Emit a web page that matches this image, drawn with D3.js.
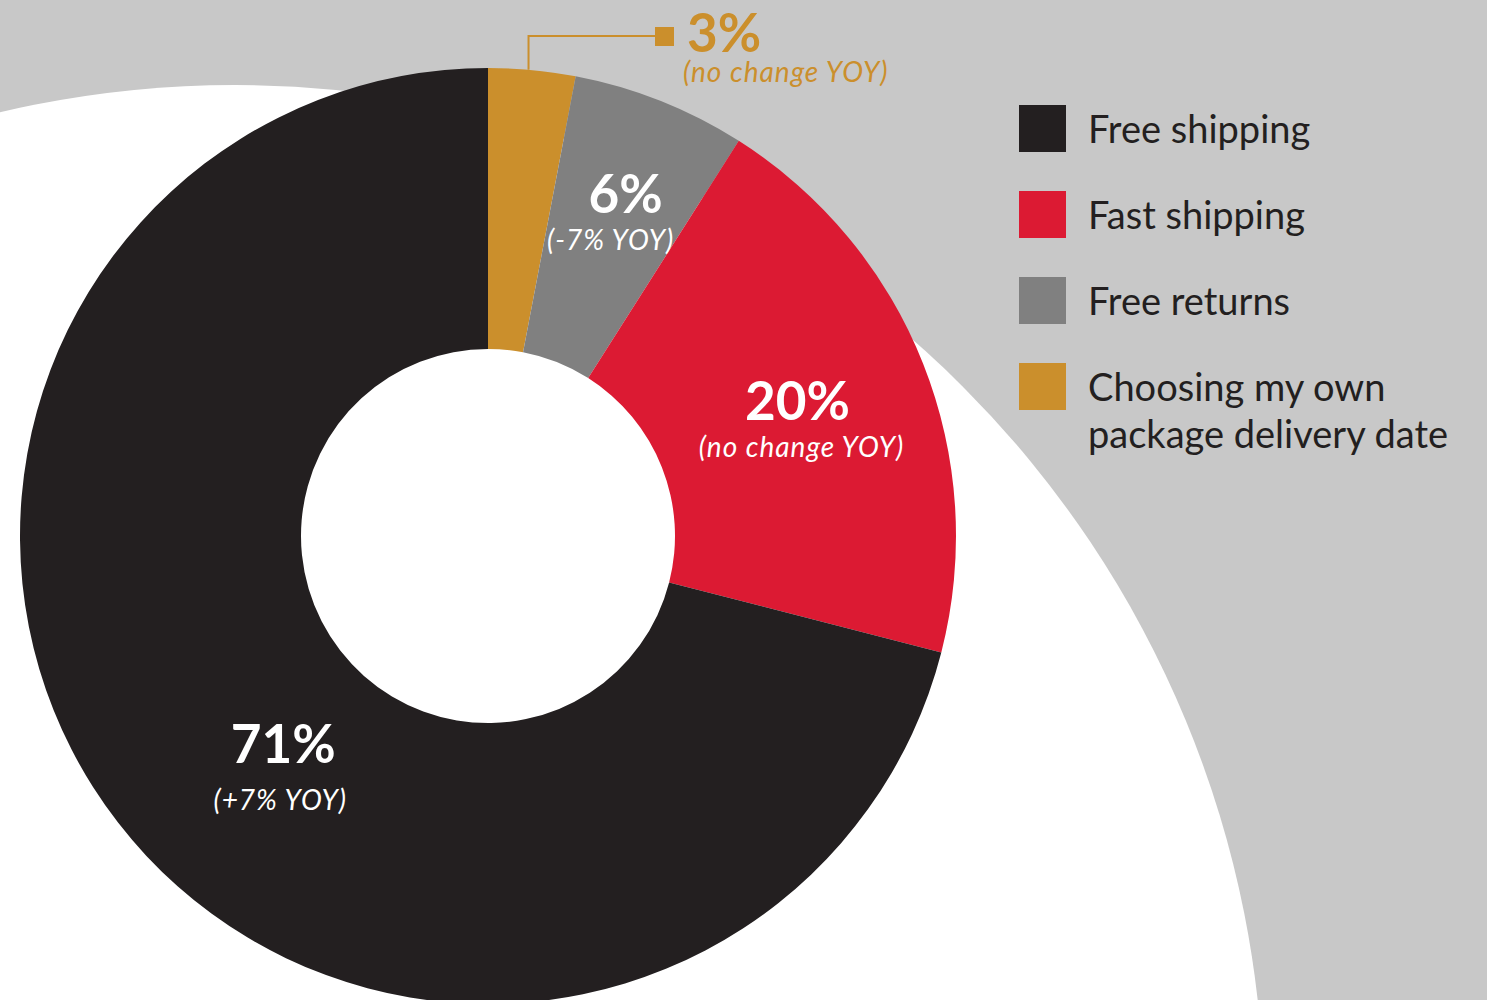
<!DOCTYPE html>
<html>
<head>
<meta charset="utf-8">
<script src="https://cdn.jsdelivr.net/npm/d3@7"></script>
<style>
  html, body { margin: 0; padding: 0; background: #c8c8c8; }
  svg { display: block; }
</style>
</head>
<body>
<svg id="chart" width="1487" height="1000"></svg>
<script>
// Delivery preferences, share of respondents (clockwise from 12 o'clock)
const categories = ["Choosing my own package delivery date", "Free returns", "Fast shipping", "Free shipping"];
const shares = [3, 6, 20, 71];
const yoyNotes = ["(no change YOY)", "(-7% YOY)", "(no change YOY)", "(+7% YOY)"];
const sliceColors = ["#cb8f2c", "#808080", "#dc1a33", "#231f20"];

// Legend order and wrapped lines
const legendOrder = ["Free shipping", "Fast shipping", "Free returns", "Choosing my own package delivery date"];
const legendLines = [["Free shipping"], ["Fast shipping"], ["Free returns"], ["Choosing my own", "package delivery date"]];

const svg = d3.select("#chart");
const W = 1487, H = 1000;

// Backdrop: grey page with a large white disc behind the donut
svg.append("rect").attr("width", W).attr("height", H).attr("fill", "#c8c8c8");
svg.append("circle").attr("cx", 235).attr("cy", 1114).attr("r", 1029).attr("fill", "#ffffff");

const cx = 488, cy = 536, rOuter = 468, rInner = 187;
const g = svg.append("g").attr("transform", `translate(${cx},${cy})`);

const data = categories.map((c, i) => ({ category: c, value: shares[i], note: yoyNotes[i], color: sliceColors[i] }));
const pie = d3.pie().sort(null).value(d => d.value).startAngle(0).endAngle(2 * Math.PI);
const arc = d3.arc().innerRadius(rInner).outerRadius(rOuter);
const arcs = pie(data);

g.selectAll("path.slice")
  .data(arcs)
  .join("path")
  .attr("class", "slice")
  .attr("d", arc)
  .attr("fill", d => d.data.color);

const fmt = v => `${v}%`;

const mainStyle = sel => sel
  .attr("font-family", "Lato, sans-serif")
  .attr("font-weight", 700)
  .attr("font-size", 53);
const noteStyle = sel => sel
  .attr("font-family", "Lato, sans-serif")
  .attr("font-style", "italic")
  .attr("font-weight", 400)
  .attr("font-size", 28)
  .attr("letter-spacing", 1);

// In-slice labels: value and note offsets from each slice centroid
const inLabelShift = {
  "Free returns": { main: [17, -19], note: [2, 18] },
  "Fast shipping": { main: [5, 5], note: [9, 42] },
  "Free shipping": { main: [54, 26], note: [51, 73] }
};
arcs.forEach(a => {
  const shift = inLabelShift[a.data.category];
  if (!shift) return;
  const [mx, my] = arc.centroid(a);
  g.append("text")
    .attr("x", mx + shift.main[0]).attr("y", my + shift.main[1])
    .attr("text-anchor", "middle")
    .attr("fill", "#ffffff")
    .call(mainStyle)
    .text(fmt(a.data.value));
  g.append("text")
    .attr("x", mx + shift.note[0]).attr("y", my + shift.note[1])
    .attr("text-anchor", "middle")
    .attr("fill", "#ffffff")
    .call(noteStyle)
    .text(a.data.note);
});

// Callout for the smallest slice
const small = arcs[0];
const elbowAngle = small.endAngle * 0.46;
const elbowX = rOuter * Math.sin(elbowAngle);
const topY = -rOuter * Math.cos(elbowAngle);
const callY = -500;
const tipX = 176;
g.append("path")
  .attr("d", `M${elbowX},${topY} V${callY} H${tipX}`)
  .attr("fill", "none")
  .attr("stroke", small.data.color)
  .attr("stroke-width", 2);
g.append("rect")
  .attr("x", tipX - 9).attr("y", callY - 9)
  .attr("width", 19).attr("height", 19)
  .attr("fill", small.data.color);
g.append("text")
  .attr("x", tipX + 23).attr("y", callY + 16)
  .attr("fill", small.data.color)
  .call(mainStyle)
  .text(fmt(small.data.value));
g.append("text")
  .attr("x", tipX + 19).attr("y", callY + 46)
  .attr("fill", small.data.color)
  .call(noteStyle)
  .text(small.data.note);

// Legend
const colorOf = d3.scaleOrdinal().domain(categories).range(sliceColors);
const legendY = d3.scalePoint().domain(legendOrder).range([105, 363]);
const legend = svg.append("g");
const items = legend.selectAll("g.item")
  .data(legendOrder)
  .join("g")
  .attr("class", "item")
  .attr("transform", d => `translate(1019,${legendY(d)})`);
items.append("rect")
  .attr("width", 47).attr("height", 47)
  .attr("fill", d => colorOf(d));
items.append("text")
  .attr("x", 69)
  .attr("y", 38)
  .attr("font-family", "Lato, sans-serif")
  .attr("font-size", 38)
  .attr("fill", "#231f20")
  .selectAll("tspan")
  .data((d, i) => legendLines[i])
  .join("tspan")
  .attr("x", 69)
  .attr("dy", (d, i) => i === 0 ? 0 : 47)
  .text(d => d);
</script>
</body>
</html>
